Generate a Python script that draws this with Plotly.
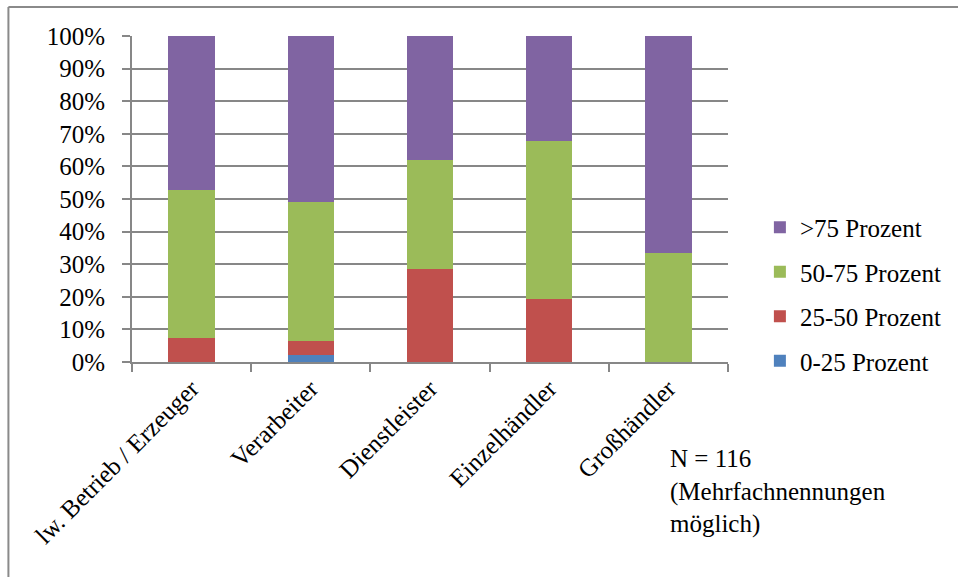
import plotly.graph_objects as go

# Share of turnover by respondent type (percent of answers per group)
categories = ["lw. Betrieb / Erzeuger", "Verarbeiter", "Dienstleister", "Einzelhändler", "Großhändler"]
series_names = ["0-25 Prozent", "25-50 Prozent", "50-75 Prozent", ">75 Prozent"]
p_0_25 = [0.0, 2.1, 0.0, 0.0, 0.0]
p_25_50 = [7.5, 4.3, 28.6, 19.4, 0.0]
p_50_75 = [45.3, 42.6, 33.3, 48.4, 33.3]
p_over_75 = [47.2, 51.0, 38.1, 32.2, 66.7]
y_ticks = list(range(0, 101, 10))
y_tick_labels = [f"{v}%" for v in y_ticks]
note_text = "N = 116<br>(Mehrfachnennungen<br>möglich)"

colors = ["#4F81BD", "#C0504D", "#9BBB59", "#8064A2"]
FONT = "Liberation Serif"
GRID = "#878787"

# plot area in pixels (958 x 577 canvas)
L, R, T, B = 132, 730, 36, 362
W, H = 958, 577


def px_x(px):
    return (px - L) / (R - L)


def px_y(py):
    return (B - py) / (B - T)


def serif(size=25):
    return dict(family=FONT, size=size, color="black")


fig = go.Figure()
series = [p_0_25, p_25_50, p_50_75, p_over_75]
for i, (name, vals, col) in enumerate(zip(series_names, series, colors)):
    fig.add_trace(go.Bar(
        x=categories, y=vals, name=name, legendgroup=name,
        legendrank=100 - i,
        marker=dict(color=col, line=dict(width=0)),
    ))

fig.update_layout(
    template="none",
    width=W, height=H,
    margin=dict(l=L, r=W - R, t=T, b=H - B, pad=0),
    barmode="stack", bargap=0.61,
    plot_bgcolor="white", paper_bgcolor="white",
    font=serif(),
    showlegend=True,
    legend=dict(
        traceorder="grouped", tracegroupgap=9,
        x=px_x(762), xanchor="left", y=px_y(294), yanchor="middle",
        font=serif(), itemwidth=30, bgcolor="rgba(0,0,0,0)",
    ),
    xaxis=dict(
        type="category", showline=True, linecolor=GRID, linewidth=2,
        ticks="outside", tickson="boundaries", ticklen=8, tickwidth=2, tickcolor=GRID,
        tickangle=-45, showgrid=False, tickfont=serif(),
    ),
    yaxis=dict(
        range=[0, 100], tickmode="array", tickvals=y_ticks, ticktext=y_tick_labels,
        showgrid=True, gridcolor=GRID, gridwidth=2,
        showline=True, linecolor=GRID, linewidth=2,
        ticks="outside", ticklen=8, tickwidth=2, tickcolor=GRID,
        ticklabelstandoff=12, zeroline=False, tickfont=serif(),
    ),
    annotations=[dict(
        text=note_text, xref="paper", yref="paper",
        x=px_x(670), y=px_y(443), xanchor="left", yanchor="top",
        align="left", showarrow=False, font=serif(),
    )],
    shapes=[
        dict(type="line", xref="paper", yref="paper",
             x0=px_x(8), x1=px_x(1000), y0=px_y(7), y1=px_y(7),
             line=dict(color="#8a8a8a", width=2)),
        dict(type="line", xref="paper", yref="paper",
             x0=px_x(8), x1=px_x(8), y0=px_y(7), y1=px_y(620),
             line=dict(color="#8a8a8a", width=2)),
    ],
)

fig.write_html("out.html")
